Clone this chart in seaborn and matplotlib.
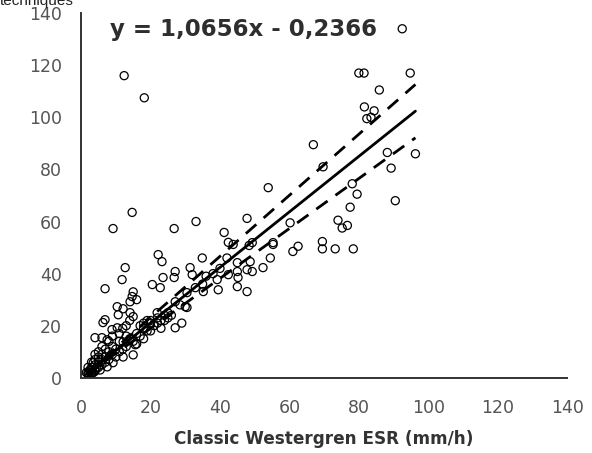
import numpy as np
import pandas as pd
import matplotlib
matplotlib.use("Agg")
import matplotlib.pyplot as plt
import seaborn as sns

# values (classic Westergren ESR vs. other technique, mm/h)
classic_esr = [
    92.5, 12.4, 18.2, 80.0, 81.5, 94.8, 85.9, 81.6, 84.4, 82.3, 83.5,
    66.9, 69.7, 88.2, 96.3, 89.3, 78.1, 79.5, 90.5, 77.5, 74.0, 75.2, 76.7,
    60.2, 62.5, 61.0, 69.5, 69.5, 73.2, 78.4, 53.9, 14.7, 9.2, 26.8, 33.1,
    41.2, 47.8, 43.8, 48.4, 55.3, 54.5, 52.4, 48.7, 45.0, 42.4, 45.2, 47.8,
    45.0, 47.8, 34.9, 22.2, 23.3, 31.4, 32.0, 27.1, 26.8, 23.6, 20.5, 22.8,
    39.2, 39.5, 35.2, 32.9, 30.5, 28.5, 30.0, 12.7, 11.8, 6.9, 15.0, 14.7,
    14.1, 16.0, 10.4, 12.1, 10.7, 14.1, 15.0, 21.9, 27.1, 30.5, 27.1, 29.0,
    6.9, 6.3, 8.9, 10.4, 4.0, 6.0, 7.5, 12.1, 15.6, 12.1, 15.0, 9.2, 7.5,
    3.5, 2.6, 42.4, 49.3, 45.0, 49.3, 55.3,
    2, 3, 3, 4, 4, 5, 5, 6, 6, 7, 2, 3, 4, 5, 6, 7, 8, 8, 9, 10, 10, 11, 9,
    12, 11, 13, 14, 13, 15, 16, 17, 18, 19, 17, 20, 21, 22, 23, 19, 24, 25,
    16, 18, 20, 8, 9, 11, 12, 13, 14, 7, 6, 5, 4, 3, 20, 22, 24, 25, 26, 23,
    18, 35, 38, 40, 42, 36, 2.5, 3.5, 4.5, 5.5, 1.5, 2, 3, 4,
]
other_esr = [
    134.0, 116.0, 107.5, 117.0, 117.0, 117.0, 110.5, 104.0, 102.5, 99.5, 100.0,
    89.5, 81.0, 86.5, 86.0, 80.5, 74.5, 70.5, 68.0, 65.5, 60.5, 57.5, 58.5,
    59.5, 50.5, 48.5, 52.3, 49.5, 49.5, 49.5, 73.0, 63.5, 57.3, 57.3, 60.0,
    55.8, 61.2, 51.2, 50.8, 51.2, 46.0, 42.3, 44.6, 44.2, 39.6, 38.5, 41.5,
    35.0, 33.1, 46.0, 47.3, 44.6, 42.3, 39.6, 40.8, 38.5, 38.5, 35.8, 34.6,
    37.7, 33.8, 33.1, 34.6, 32.7, 28.0, 27.3, 42.3, 37.7, 34.2, 33.0, 31.2,
    29.2, 30.0, 27.3, 26.5, 24.2, 25.0, 23.5, 25.0, 29.2, 27.0, 19.2, 21.0,
    22.3, 21.2, 18.5, 19.2, 15.4, 15.4, 14.6, 13.8, 12.7, 8.0, 8.8, 5.8, 4.2,
    5.8, 2.3, 52.0, 51.9, 40.8, 40.8, 51.9,
    2, 3, 4, 3, 5, 4, 6, 5, 7, 6, 4, 2, 7, 8, 9, 8, 7, 10, 9, 8, 11, 10, 12,
    11, 14, 12, 15, 16, 14, 17, 16, 19, 18, 20, 21, 20, 23, 22, 22, 24, 23,
    13, 15, 18, 14, 16, 17, 19, 20, 22, 11, 12, 10, 9, 6, 22, 21, 22, 25, 24, 19,
    21, 36, 40, 42, 46, 39, 3, 2, 4, 3, 2, 1.5, 1.5, 2.5,
]

slope = 1.0656
intercept = -0.2366
band = 0.10  # dashed lines: fit +/- 10 %
equation = "y = 1,0656x - 0,2366"
x_title = "Classic Westergren ESR (mm/h)"
top_text = "techniques"

df = pd.DataFrame({"classic": classic_esr, "other": other_esr})

sns.set_style("white")
plt.rcParams["font.family"] = ["DejaVu Sans"]

fig = plt.figure(figsize=(5.92, 4.53), dpi=100)
ax = fig.add_axes([0.137, 0.166, 0.821, 0.805])

sns.scatterplot(data=df, x="classic", y="other", ax=ax, marker="o",
                facecolors="none", edgecolor="black", linewidth=0.9, s=34,
                legend=False)

# regression line and the +/-10 % dashed lines
xfit = np.linspace(df["classic"].min(), df["classic"].max(), 50)
yfit = slope * xfit + intercept
ax.plot(xfit, yfit, color="black", lw=2)
ax.plot(xfit, yfit * (1 + band), color="black", lw=2, ls=(0, (5, 3.5)))
ax.plot(xfit, yfit * (1 - band), color="black", lw=2, ls=(0, (5, 3.5)))

ax.set_xlim(0, 140)
ax.set_ylim(0, 140)
ax.set_xticks(range(0, 141, 20))
ax.set_yticks(range(0, 141, 20))
ax.tick_params(axis="x", direction="inout", length=7, width=1.2,
               labelsize=12.5, labelcolor="#555555", pad=12)
ax.tick_params(axis="y", direction="out", length=5, width=1.2,
               labelsize=12.5, labelcolor="#555555", pad=9)
sns.despine(ax=ax)
for side in ["left", "bottom"]:
    ax.spines[side].set_color("#333333")
    ax.spines[side].set_linewidth(1.4)

ax.set_xlabel(x_title, fontsize=12.2, fontweight="bold", color="#333333",
              labelpad=9)
ax.set_ylabel("")

ax.text(0.06, 0.955, equation, transform=ax.transAxes, fontsize=16.5,
        fontweight="bold", color="#2e2e2e", va="center", ha="left")

fig.text(0.0, 0.998, top_text, fontsize=11, color="#222222",
         va="center", ha="left", family=["Liberation Sans"])

fig.savefig("out.png", dpi=100, facecolor="white")
